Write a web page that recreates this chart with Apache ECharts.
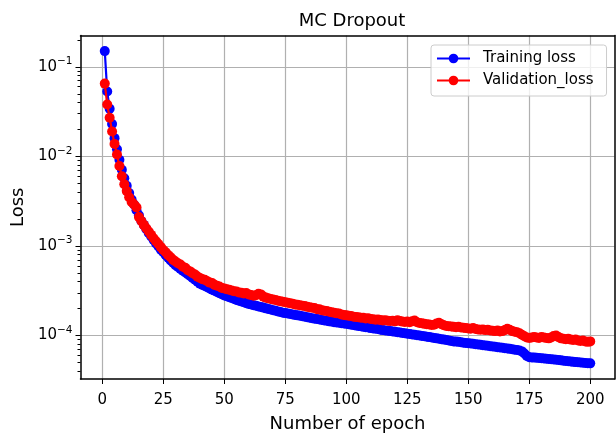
<!DOCTYPE html>
<html><head><meta charset="utf-8">
<script src="https://cdn.jsdelivr.net/npm/echarts@6/dist/echarts.min.js"></script>
<style>html,body{margin:0;padding:0;background:#fff}#c{width:616px;height:438px}</style>
</head><body><div id="c"></div>
<script>
const trainingLoss = [
0.15, 0.053, 0.034, 0.023, 0.016, 0.012, 0.0092, 0.0071, 0.0057, 0.0047,
0.0039, 0.0033, 0.0029, 0.0025, 0.0022, 0.0019, 0.00172, 0.00155, 0.0014, 0.00128,
0.00117, 0.00107, 0.00099, 0.00091, 0.00085, 0.00079, 0.00074, 0.00069, 0.00065, 0.00061,
0.000582, 0.000555, 0.00053, 0.000506, 0.000483, 0.000461, 0.00044, 0.000419, 0.000399, 0.00038,
0.000368, 0.000357, 0.000346, 0.000335, 0.000325, 0.000316, 0.000306, 0.000297, 0.000289, 0.00028,
0.000274, 0.000268, 0.000262, 0.000256, 0.00025, 0.000245, 0.00024, 0.000235, 0.00023, 0.000225,
0.000222, 0.000218, 0.000215, 0.000211, 0.000208, 0.000205, 0.000201, 0.000198, 0.000195, 0.000192,
0.000189, 0.000186, 0.000183, 0.00018, 0.000178, 0.000176, 0.000174, 0.000172, 0.00017, 0.000168,
0.000166, 0.000164, 0.000162, 0.00016, 0.000158, 0.000156, 0.000154, 0.000153, 0.000151, 0.000149,
0.000147, 0.000146, 0.000144, 0.000143, 0.000141, 0.00014, 0.000139, 0.000137, 0.000136, 0.000135,
0.000134, 0.000132, 0.000131, 0.000129, 0.000128, 0.000127, 0.000125, 0.000124, 0.000123, 0.000121,
0.00012, 0.000119, 0.000118, 0.000116, 0.000115, 0.000114, 0.000113, 0.000112, 0.000111, 0.00011,
0.000109, 0.000108, 0.000107, 0.000106, 0.000105, 0.000104, 0.000103, 0.000102, 0.000101, 0.0001,
0.000099, 0.000098, 0.000097, 0.000096, 0.000095, 0.000094, 0.000093, 0.000092, 0.000091, 0.00009,
0.000089, 0.000088, 0.000087, 0.000086, 0.0000855, 0.000085, 0.000084, 0.000083, 0.0000825, 0.000082,
0.0000815, 0.000081, 0.00008, 0.0000795, 0.000079, 0.000078, 0.0000775, 0.000077, 0.000076, 0.0000755,
0.000075, 0.000074, 0.0000735, 0.000073, 0.0000722, 0.0000715, 0.000071, 0.0000702, 0.0000695, 0.0000688,
0.000068, 0.0000665, 0.000063, 0.000059, 0.0000572, 0.000057, 0.0000567, 0.0000564, 0.000056, 0.0000557,
0.0000554, 0.000055, 0.0000546, 0.0000543, 0.000054, 0.0000536, 0.0000532, 0.0000528, 0.0000524, 0.000052,
0.0000516, 0.0000512, 0.0000508, 0.0000505, 0.0000502, 0.0000499, 0.0000496, 0.0000493, 0.0000491, 0.0000489
];
const validationLoss = [
0.065, 0.038, 0.027, 0.019, 0.0138, 0.0105, 0.0078, 0.006, 0.0049, 0.0041,
0.0035, 0.0031, 0.0029, 0.0027, 0.0021, 0.0019, 0.00172, 0.00158, 0.00145, 0.00133,
0.00122, 0.00113, 0.00105, 0.00097, 0.0009, 0.00085, 0.00079, 0.00075, 0.0007, 0.00067,
0.00064, 0.00062, 0.000585, 0.00057, 0.000535, 0.00052, 0.000495, 0.00048, 0.000455, 0.00044,
0.000425, 0.00042, 0.000405, 0.00039, 0.000385, 0.000368, 0.00036, 0.000352, 0.00034, 0.000336,
0.000328, 0.000325, 0.000318, 0.000312, 0.00031, 0.000302, 0.0003, 0.000295, 0.000298, 0.000288,
0.000283, 0.000278, 0.000282, 0.000292, 0.000288, 0.000272, 0.000265, 0.00026, 0.000256, 0.000252,
0.000249, 0.000244, 0.000242, 0.000238, 0.000235, 0.000232, 0.000229, 0.000227, 0.000222, 0.00022,
0.000218, 0.000215, 0.000214, 0.000209, 0.000207, 0.000204, 0.000203, 0.000197, 0.000196, 0.000192,
0.000189, 0.000188, 0.000184, 0.000182, 0.00018, 0.000177, 0.000176, 0.000172, 0.00017, 0.000168,
0.000166, 0.000165, 0.000162, 0.000161, 0.00016, 0.000158, 0.000158, 0.000155, 0.000156, 0.000153,
0.000152, 0.00015, 0.000151, 0.000149, 0.000147, 0.000148, 0.000146, 0.000145, 0.000146, 0.000144,
0.000148, 0.000145, 0.000143, 0.000142, 0.000143, 0.000141, 0.000144, 0.000147, 0.000141, 0.000138,
0.000137, 0.000135, 0.000134, 0.000133, 0.000131, 0.000132, 0.000136, 0.000139, 0.000134, 0.00013,
0.000128, 0.000127, 0.000126, 0.000125, 0.000124, 0.000125, 0.000123, 0.000122, 0.000121, 0.00012,
0.000119, 0.000121, 0.000118, 0.000117, 0.000116, 0.000117, 0.000115, 0.000116, 0.000114, 0.000113,
0.000112, 0.000114, 0.000111, 0.000112, 0.000115, 0.000119, 0.000116, 0.000112, 0.00011, 0.000109,
0.000106, 0.000102, 0.000098, 0.000095, 0.000094, 0.000095, 0.000096, 0.000095, 0.000094, 0.000096,
0.000095, 0.000094, 0.000093, 0.000095, 0.000099, 0.0001, 0.000096, 0.000093, 0.000092, 0.000091,
0.000092, 0.00009, 0.000089, 0.00009, 0.000088, 0.000087, 0.000088, 0.000086, 0.000085, 0.000086
];
const xTicks = [0, 25, 50, 75, 100, 125, 150, 175, 200];
const yTicks = [1e-4, 1e-3, 1e-2, 1e-1];
const yTickExponents = ['\u22124', '\u22123', '\u22122', '\u22121'];
const yMinorTicks = [4e-5,5e-5,6e-5,7e-5,8e-5,9e-5,
  2e-4,3e-4,4e-4,5e-4,6e-4,7e-4,8e-4,9e-4,
  2e-3,3e-3,4e-3,5e-3,6e-3,7e-3,8e-3,9e-3,
  2e-2,3e-2,4e-2,5e-2,6e-2,7e-2,8e-2,9e-2, 2e-1];
const seriesNames = ['Training loss', 'Validation_loss'];

const trainPairs = trainingLoss.map((v, i) => [i + 1, v]);
const valPairs = validationLoss.map((v, i) => [i + 1, v]);
const FONT = 'DejaVu Sans';
const yMin = 3.27e-5, yMax = 0.224;
const FRAME = {show: true, onZero: false, lineStyle: {color: '#000', width: 1.5}};
const NOLINE = {show: false, onZero: false};

function yLabel(v) {
  let best = 0, bd = Infinity;
  yTicks.forEach((t, i) => { const d = Math.abs(Math.log10(t) - Math.log10(v)); if (d < bd) { bd = d; best = i; } });
  return '{b|10}{s|' + yTickExponents[best] + '}';
}

const chart = echarts.init(document.getElementById('c'), null, {renderer: 'canvas'});
chart.setOption({
  animation: false,
  textStyle: {fontFamily: FONT},
  title: {
    text: 'MC Dropout', left: 347, top: 7, textAlign: 'center',
    textStyle: {fontFamily: FONT, fontSize: 18, fontWeight: 'normal', color: '#000'}
  },
  grid: {left: 80.5, top: 35.5, right: 1.5, bottom: 53.5, show: false, containLabel: false},
  legend: {
    orient: 'vertical', left: 431, top: 45,
    data: seriesNames,
    itemWidth: 33, itemHeight: 12, itemGap: 7,
    padding: [6, 13, 8, 5],
    backgroundColor: 'rgba(255,255,255,0.8)', borderColor: '#cccccc', borderWidth: 1, borderRadius: 3,
    textStyle: {fontFamily: FONT, fontSize: 15, color: '#000', padding: [0, 0, 0, 8]}
  },
  xAxis: [{
    type: 'value', min: -8.95, max: 209.95, position: 'bottom',
    name: 'Number of epoch', nameLocation: 'middle', nameGap: 36,
    nameTextStyle: {fontFamily: FONT, fontSize: 18, color: '#000'},
    axisLine: FRAME,
    axisTick: {show: true, inside: false, length: 5, customValues: xTicks, lineStyle: {color: '#000', width: 1}},
    axisLabel: {customValues: xTicks, margin: 14, fontFamily: FONT, fontSize: 15, color: '#000'},
    splitLine: {show: true, lineStyle: {color: '#b0b0b0', width: 1.2}}
  }, {
    type: 'value', min: -8.95, max: 209.95, position: 'top',
    axisLine: FRAME, axisTick: {show: false}, axisLabel: {show: false}, splitLine: {show: false}
  }],
  yAxis: [{
    type: 'log', logBase: 10, min: yMin, max: yMax, position: 'left',
    name: 'Loss', nameLocation: 'middle', nameGap: 53, nameRotate: 90,
    nameTextStyle: {fontFamily: FONT, fontSize: 18, color: '#000'},
    axisLine: FRAME,
    axisTick: {show: true, inside: false, length: 5, customValues: yTicks, lineStyle: {color: '#000', width: 1}},
    axisLabel: {
      customValues: yTicks, margin: 8, formatter: yLabel,
      rich: {
        b: {fontFamily: FONT, fontSize: 15, color: '#000', lineHeight: 22},
        s: {fontFamily: FONT, fontSize: 10.5, color: '#000', lineHeight: 10, verticalAlign: 'top'}
      }
    },
    splitLine: {show: true, lineStyle: {color: '#b0b0b0', width: 1.2}}
  }, {
    type: 'log', logBase: 10, min: yMin, max: yMax, position: 'right',
    axisLine: FRAME, axisTick: {show: false}, axisLabel: {show: false}, splitLine: {show: false}
  }, {
    type: 'log', logBase: 10, min: yMin, max: yMax, position: 'left', offset: 0,
    axisLine: NOLINE,
    axisTick: {show: true, inside: false, length: 3, customValues: yMinorTicks, lineStyle: {color: '#000', width: 1}},
    axisLabel: {show: false},
    splitLine: {show: false}
  }],
  series: [{
    name: seriesNames[0], type: 'line', data: trainPairs, xAxisIndex: 0, yAxisIndex: 0,
    symbol: 'circle', symbolSize: 10, showSymbol: true,
    itemStyle: {color: '#0000ff'}, lineStyle: {color: '#0000ff', width: 2.2}, z: 2
  }, {
    name: seriesNames[1], type: 'line', data: valPairs, xAxisIndex: 0, yAxisIndex: 0,
    symbol: 'circle', symbolSize: 10, showSymbol: true,
    itemStyle: {color: '#ff0000'}, lineStyle: {color: '#ff0000', width: 2.2}, z: 3
  }]
});
</script></body></html>
